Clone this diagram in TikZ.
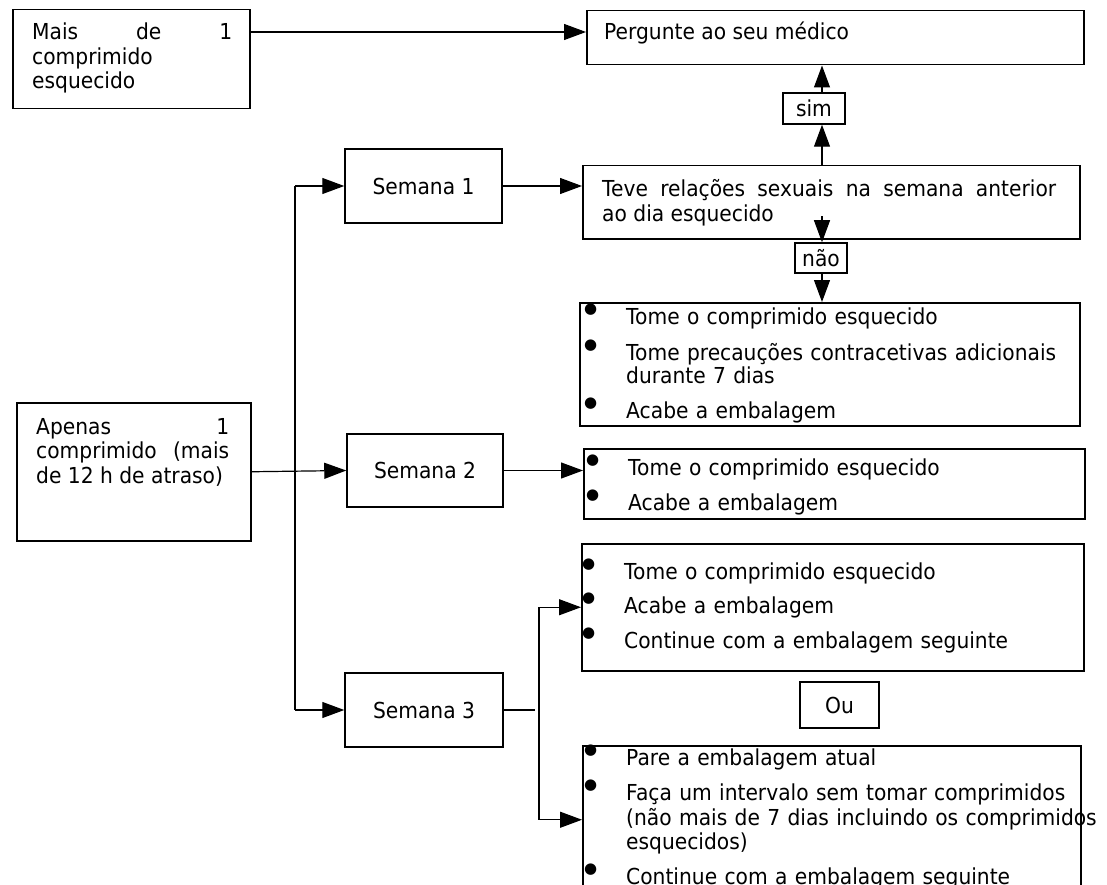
\documentclass[tikz,border=0pt]{standalone}
\usepackage{fontspec}
\setmainfont{DejaVu Sans}[FakeStretch=0.92]
\newfontfamily\dotfont{DejaVu Sans}
\usetikzlibrary{arrows.meta,positioning}
\newcommand{\blt}{\leavevmode\llap{\raisebox{11pt}{\fontsize{15}{15}\dotfont ●}\hspace{29pt}}}
\tikzset{
  frame/.style={draw, line width=1.5pt, inner sep=0pt},
  lbl/.style={frame, font=\fontsize{22}{24.5}\selectfont},
  txt/.style={inner sep=0pt, anchor=base west, align=left, font=\fontsize{22}{24.5}\selectfont},
  ltxt/.style={txt, text width=500pt},
  jtxt/.style={txt, align=justify},
  link/.style={line width=1.2pt},
  arr/.style={link, -{Triangle[length=22pt,width=16pt]}},
}

\begin{document}
\begin{tikzpicture}[x=1pt,y=-1pt]
\useasboundingbox[fill=white] (0,0) rectangle (1107,885);
% frames
\node[frame, anchor=north west, minimum width=237pt, minimum height=99pt] (mais) at (12,9) {};
\node[frame, anchor=north west, minimum width=497pt, minimum height=54pt] (perg) at (586,10) {};
\node[frame, anchor=north west, minimum width=497pt, minimum height=73pt] (teve) at (582,165) {};
\node[frame, anchor=north west, minimum width=500pt, minimum height=123pt] (boxA) at (579,302) {};
\node[frame, anchor=north west, minimum width=234pt, minimum height=138pt] (apenas) at (16,402) {};
\node[frame, anchor=north west, minimum width=501pt, minimum height=70pt] (boxB) at (583,448) {};
\node[frame, anchor=north west, minimum width=502pt, minimum height=127pt] (boxC) at (581,543) {};
\node[frame, anchor=north west, minimum width=498pt, minimum height=148pt] (boxD) at (582,745) {};

\node[lbl, minimum width=62pt, minimum height=31pt] (sim) at (814,108.5) {sim};
\node[lbl, minimum width=52pt, minimum height=30pt] (nao) at (821,258) {não};
\node[lbl, minimum width=79pt, minimum height=46pt] (ou) at (839.5,705) {Ou};
\node[lbl, minimum width=157pt, minimum height=74pt] (sem1) at (423.5,186) {Semana 1};
\node[lbl, minimum width=156pt, minimum height=73pt] (sem2) at (425,470.5) {Semana 2};
\node[lbl, minimum width=158pt, minimum height=74pt] (sem3) at (424,710) {Semana 3};

% texts
\node[jtxt, text width=200pt] (maisT) at ([shift={(20,31)}]mais.north west)
  {Mais\hfill de\hfill 1\\ comprimido\\ esquecido};
\node[txt] (pergT) at ([shift={(18,30)}]perg.north west) {Pergunte ao seu médico};
\node[jtxt, text width=454pt] (teveT) at ([shift={(20,32)}]teve.north west)
  {Teve\hfill relações\hfill sexuais\hfill na\hfill semana\hfill anterior\\ ao dia esquecido};
\node[jtxt, text width=193pt] (apenasT) at ([shift={(20,32)}]apenas.north west)
  {Apenas\hfill 1\\ comprimido\hfill (mais\\ de 12 h de atraso)};
\node[ltxt] (boxAT) at ([shift={(47,22)}]boxA.north west)
  {\blt Tome o comprimido esquecido\\[10.5pt]
   \blt Tome precauções contracetivas adicionais\\[-1.5pt]
   durante 7 dias\\[10.5pt]
   \blt Acabe a embalagem};
\node[ltxt] (boxBT) at ([shift={(45,27)}]boxB.north west)
  {\blt Tome o comprimido esquecido\\[9.5pt]
   \blt Acabe a embalagem};
\node[ltxt] (boxCT) at ([shift={(43,36)}]boxC.north west)
  {\blt Tome o comprimido esquecido\\[8.5pt]
   \blt Acabe a embalagem\\[8.5pt]
   \blt Continue com a embalagem seguinte};
\node[ltxt] (boxDT) at ([shift={(44,20)}]boxD.north west)
  {\blt Pare a embalagem atual\\[9.5pt]
   \blt Faça um intervalo sem tomar comprimidos\\
   (não mais de 7 dias incluindo os comprimidos\\
   esquecidos)\\[8.5pt]
   \blt Continue com a embalagem seguinte};

% connectors
\coordinate (axis) at (822,0);
\coordinate (trunk) at (295,0);
\coordinate (fork) at (539,0);
\draw[arr] ([yshift=-23pt]mais.north east) -- ([yshift=-23pt]mais.north east -| perg.west);
\draw[arr] (teve.north -| axis) -- (sim.south -| axis);
\draw[arr] (sim.north -| axis) -- (perg.south -| axis);
\draw[arr] ([yshift=23pt]teve.south -| axis) -- (nao.north -| axis);
\draw[arr] (nao.south -| axis) -- (boxA.north -| axis);
\draw[link] (sem1.west -| trunk) -- (sem3.west -| trunk);
\draw[arr] (sem1.west -| trunk) -- (sem1.west);
\draw[arr] (apenas.east) -- (sem2.west);
\draw[arr] (sem3.west -| trunk) -- (sem3.west);
\draw[arr] (sem1.east) -- (sem1.east -| teve.west);
\draw[arr] (sem2.east) -- (sem2.east -| boxB.west);
\draw[link] (sem3.east) -- ([xshift=-4pt]sem3.east -| fork);
\draw[link] (boxC.west -| fork) -- (boxD.west -| fork);
\draw[arr] (boxC.west -| fork) -- (boxC.west);
\draw[arr] (boxD.west -| fork) -- (boxD.west);
\end{tikzpicture}
\end{document}
